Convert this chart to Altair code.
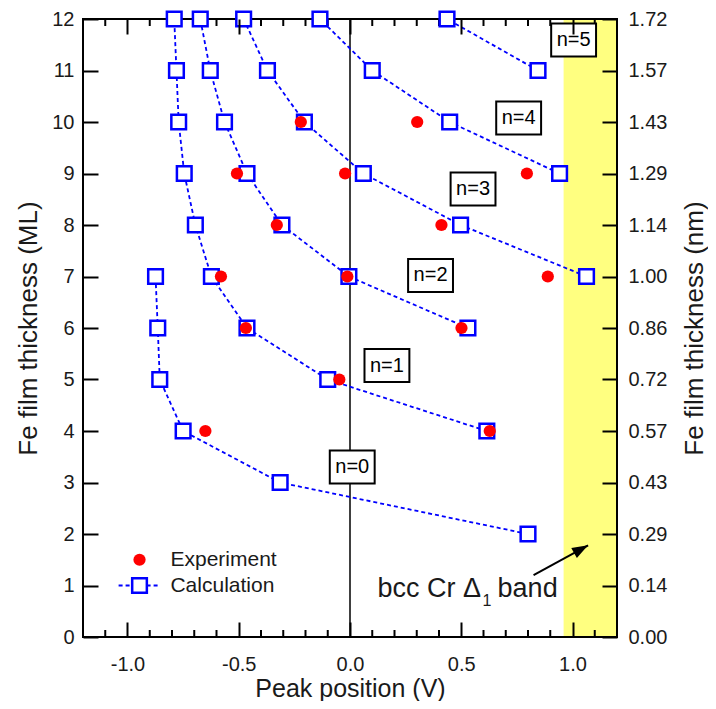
import altair as alt
import pandas as pd

# ---------------- data ----------------
# Calculation curves (quantum-well state index n): film thickness (ML) and peak position (V)
calc_n0_y = [7, 6, 5, 4, 3, 2]
calc_n0_x = [-0.874, -0.864, -0.855, -0.750, -0.314, 0.800]
calc_n1_y = [12, 11, 10, 9, 8, 7, 6, 5, 4]
calc_n1_x = [-0.790, -0.780, -0.770, -0.745, -0.695, -0.623, -0.463, -0.100, 0.615]
calc_n2_y = [12, 11, 10, 9, 8, 7, 6]
calc_n2_x = [-0.673, -0.628, -0.564, -0.463, -0.306, -0.005, 0.530]
calc_n3_y = [12, 11, 10, 9, 8, 7]
calc_n3_x = [-0.478, -0.371, -0.205, 0.060, 0.497, 1.063]
calc_n4_y = [12, 11, 10, 9]
calc_n4_x = [-0.135, 0.100, 0.448, 0.942]
calc_n5_y = [12, 11]
calc_n5_x = [0.436, 0.845]

# Experiment
exp_y = [10, 10, 9, 9, 9, 8, 8, 7, 7, 7, 6, 6, 5, 4, 4]
exp_x = [-0.221, 0.302, -0.508, -0.022, 0.795, -0.329, 0.411,
         -0.580, -0.012, 0.889, -0.468, 0.501, -0.048, -0.650, 0.628]

# n = labels (annotation anchors)
label_text = ["n=0", "n=1", "n=2", "n=3", "n=4", "n=5"]
label_x = [0.010, 0.166, 0.362, 0.553, 0.758, 1.005]
label_y = [3.30, 5.27, 7.02, 8.70, 10.08, 11.59]

# axes
x_major = [-1.0, -0.5, 0.0, 0.5, 1.0]
x_minor = [-1.1, -0.9, -0.8, -0.7, -0.6, -0.4, -0.3, -0.2, -0.1,
           0.1, 0.2, 0.3, 0.4, 0.6, 0.7, 0.8, 0.9, 1.1]
y_ticks = list(range(13))
nm_labels = ["0.00", "0.14", "0.29", "0.43", "0.57", "0.72", "0.86",
             "1.00", "1.14", "1.29", "1.43", "1.57", "1.72"]

band_x = [0.96, 1.2]

# legend / annotation anchors
legend_labels = ["Experiment", "Calculation"]
legend_y = [1.5, 1.0]
legend_marker_x = -0.946
legend_line_x = [-1.04, -0.852]
legend_text_x = -0.807

band_text_x = 0.124
band_text_y = 0.78
arrow_from = [0.825, 1.20]
arrow_to = [1.07, 1.78]

# ---------------- styling ----------------
W, H = 534, 618
FONT = "Liberation Sans"
BLUE = "#0000ff"
RED = "#ff0000"
YELLOW = "#ffff80"
TXT = "#1a1a1a"

xs = alt.Scale(domain=[-1.2, 1.2], nice=False, zero=False)
ys = alt.Scale(domain=[0, 12], nice=False, zero=False)

x_lbl = "(datum.value < 0 ? '-' : '') + format(abs(datum.value), '.1f')"
nm_expr = "[" + ",".join("'%s'" % s for s in nm_labels) + "][datum.value]"

x_axis = alt.Axis(values=x_major, labelExpr=x_lbl, tickSize=15, tickWidth=2,
                  tickColor="black", offset=-15, domain=False, grid=False,
                  labelPadding=17, labelFontSize=20, labelColor=TXT, labelFont=FONT,
                  title="Peak position (V)", titleFontSize=25, titleFont=FONT,
                  titleFontWeight="normal", titleColor=TXT, titlePadding=2, zindex=1)
y_axis = alt.Axis(values=y_ticks, format="d", tickSize=15, tickWidth=2,
                  tickColor="black", offset=-15, domain=False, grid=False,
                  labelPadding=9, labelFontSize=20, labelColor=TXT, labelFont=FONT,
                  title="Fe film thickness (ML)", titleFontSize=26, titleFont=FONT,
                  titleFontWeight="normal", titleColor=TXT, titlePadding=10, zindex=1)
x_top = alt.Axis(orient="top", values=x_major, labels=False, tickSize=15, tickWidth=2,
                 tickColor="black", offset=-15, domain=False, grid=False,
                 title="", zindex=1)
y_right = alt.Axis(orient="right", values=y_ticks, labelExpr=nm_expr, tickSize=15,
                   tickWidth=2, tickColor="black", offset=-15, domain=False, grid=False,
                   labelPadding=11, labelFontSize=20, labelColor=TXT, labelFont=FONT,
                   title="Fe film thickness (nm)", titleFontSize=26, titleFont=FONT,
                   titleFontWeight="normal", titleColor=TXT, titleAngle=270,
                   titleBaseline="top", titlePadding=15, zindex=1)


def X(f):
    return alt.X(f, type="quantitative", scale=xs, axis=x_axis)


def Y(f):
    return alt.Y(f, type="quantitative", scale=ys, axis=y_axis)


# ---------------- frames ----------------
rows = []
for n, (xx, yy) in enumerate([(calc_n0_x, calc_n0_y), (calc_n1_x, calc_n1_y),
                              (calc_n2_x, calc_n2_y), (calc_n3_x, calc_n3_y),
                              (calc_n4_x, calc_n4_y), (calc_n5_x, calc_n5_y)]):
    for a, b in zip(xx, yy):
        rows.append({"x": a, "y": b, "n": n})
calc_df = pd.DataFrame(rows)
exp_df = pd.DataFrame({"x": exp_x, "y": exp_y})
lab_df = pd.DataFrame({"x": label_x, "y": label_y, "t": label_text})

band = alt.Chart(pd.DataFrame({"x0": [band_x[0]], "x1": [band_x[1]], "y0": [0], "y1": [12]})
                 ).mark_rect(color=YELLOW).encode(x=X("x0"), x2="x1", y=Y("y0"), y2="y1")

frame = alt.Chart(alt.Data(values=[{}])).mark_rect(
    fillOpacity=0, stroke="black", strokeWidth=2).encode(
    x=alt.value(0), x2=alt.value(W), y=alt.value(0), y2=alt.value(H))

minor_df = pd.DataFrame({"x": x_minor})
minor_bot = alt.Chart(minor_df).mark_rule(color="black", strokeWidth=2).encode(
    x=X("x"), y=alt.value(H), y2=alt.value(H - 7))
minor_top = alt.Chart(minor_df).mark_rule(color="black", strokeWidth=2).encode(
    x=X("x"), y=alt.value(0), y2=alt.value(7))

lines = alt.Chart(calc_df).mark_line(color=BLUE, strokeDash=[4, 3], strokeWidth=1.8).encode(
    x=X("x"), y=Y("y"), detail="n:N", order="y:Q")
squares = alt.Chart(calc_df).mark_square(size=215, filled=True, fill="white", stroke=BLUE,
                                         strokeWidth=2.5, opacity=1).encode(x=X("x"), y=Y("y"))
dots = alt.Chart(exp_df).mark_circle(size=150, color=RED, opacity=1).encode(x=X("x"), y=Y("y"))

BOX = "M-1.36,-1H1.36V1H-1.36Z"
boxes = alt.Chart(lab_df).mark_point(shape=BOX, size=33 * 33, filled=True, fill="white",
                                     stroke="black", strokeWidth=2, opacity=1).encode(
    x=X("x"), y=Y("y"))
btxt = alt.Chart(lab_df).mark_text(fontSize=20, font=FONT, color="black").encode(
    x=X("x"), y=Y("y"), text="t:N")

# legend
leg_dot = alt.Chart(pd.DataFrame({"x": [legend_marker_x], "y": [legend_y[0]]})).mark_circle(
    size=150, color=RED, opacity=1).encode(x=X("x"), y=Y("y"))
leg_line = alt.Chart(pd.DataFrame({"x": [legend_line_x[0]], "x2": [legend_line_x[1]],
                                   "y": [legend_y[1]]})).mark_rule(
    color=BLUE, strokeDash=[4, 3], strokeWidth=1.8).encode(x=X("x"), x2="x2", y=Y("y"))
leg_sq = alt.Chart(pd.DataFrame({"x": [legend_marker_x], "y": [legend_y[1]]})).mark_square(
    size=215, filled=True, fill="white", stroke=BLUE, strokeWidth=2.5, opacity=1).encode(
    x=X("x"), y=Y("y"))
leg_txt = alt.Chart(pd.DataFrame({"x": [legend_text_x] * 2, "y": legend_y, "t": legend_labels})
                    ).mark_text(fontSize=21, font=FONT, color=TXT, align="left").encode(
    x=X("x"), y=Y("y"), text="t:N")

# band annotation
bt = pd.DataFrame({"x": [band_text_x], "y": [band_text_y]})
bt1 = alt.Chart(bt).mark_text(text="bcc Cr \u0394", fontSize=27, font=FONT, color=TXT,
                              align="left", baseline="alphabetic").encode(x=X("x"), y=Y("y"))
bt2 = alt.Chart(bt).mark_text(text="1", fontSize=16, font=FONT, color=TXT, align="left",
                              baseline="alphabetic", dx=105, dy=9).encode(x=X("x"), y=Y("y"))
bt3 = alt.Chart(bt).mark_text(text="band", fontSize=27, font=FONT, color=TXT, align="left",
                              baseline="alphabetic", dx=120).encode(x=X("x"), y=Y("y"))
arrow_df = pd.DataFrame({"x": [arrow_from[0]], "y": [arrow_from[1]],
                         "x2": [arrow_to[0]], "y2": [arrow_to[1]]})
arrow_line = alt.Chart(arrow_df).mark_rule(color="black", strokeWidth=2).encode(
    x=X("x"), y=Y("y"), x2="x2", y2="y2")
HEAD = "M0,0L0.36,1L-0.36,1Z"
arrow_head = alt.Chart(pd.DataFrame({"x": [arrow_to[0]], "y": [arrow_to[1]]})).mark_point(
    shape=HEAD, size=1024, filled=True, color="black", opacity=1, angle=61).encode(
    x=X("x"), y=Y("y"))

main = alt.layer(band, frame, minor_bot, minor_top, lines, squares, dots, boxes, btxt,
                 leg_line, leg_sq, leg_dot, leg_txt, bt1, bt2, bt3, arrow_line, arrow_head)

guide = alt.Chart(pd.DataFrame({"x": [0.0], "y": [0], "y2": [12]})).mark_rule(
    color="black", strokeWidth=1.5).encode(
    x=alt.X("x:Q", scale=xs, axis=x_top),
    y=alt.Y("y:Q", scale=ys, axis=y_right),
    y2="y2:Q")

chart = alt.layer(guide, main).resolve_scale(x="independent", y="independent").properties(
    width=W, height=H,
    padding={"left": 75, "top": 11, "right": 91, "bottom": 64},
    autosize=alt.AutoSizeParams(type="none"),
).configure(font=FONT).configure_view(stroke="transparent")

chart.save("out.html", embed_options={"renderer": "svg", "actions": False})
